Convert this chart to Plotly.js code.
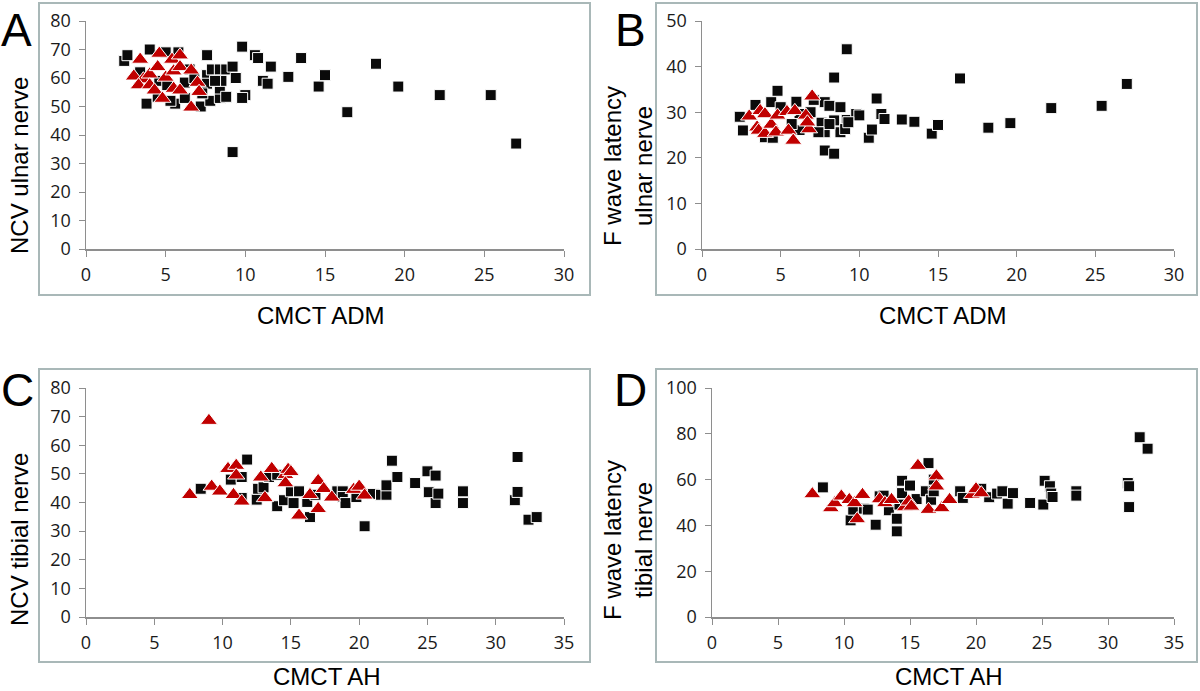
<!DOCTYPE html>
<html>
<head>
<meta charset="utf-8">
<script src="https://cdn.plot.ly/plotly-3.0.1.min.js"></script>
<style>html,body{margin:0;padding:0;background:#fff;}#chart{width:1200px;height:691px;}</style>
</head>
<body>
<div id="chart"></div>
<script>
// Panel A: CMCT ADM vs NCV ulnar nerve
const aSqX = [2.4,2.6,4.0,5.0,5.8,3.8,5.6,6.2,6.2,7.2,7.6,7.6,7.6,7.8,7.9,8.4,8.4,8.4,8.5,8.8,8.8,9.2,9.2,9.4,9.8,10.0,10.6,10.8,11.1,11.4,11.6,12.7,13.5,14.6,15.0,16.4,18.2,19.6,22.2,25.4,27.0,3.4,4.6,5.1,6.5,6.8,7.3,9.8,8.1,4.5,5.3];
const aSqY = [66,68,70,69,69,51,51,58.4,53,50,68,61,58,52,63,63,53,56.3,59,53.4,63,64,34,60,71,54,68,67,59,58,64,60.4,67,57,61,48,65,57,54,54,37,62,59,57.5,63,60,54.6,53,59,53.4,52];
const aTriX = [3.4,3.0,3.6,3.3,4.0,4.0,4.3,4.6,4.5,4.8,5.0,5.4,5.5,5.5,5.9,5.9,5.9,6.6,6.6,7.0,7.1];
const aTriY = [66.5,60.6,59.6,57.5,61.3,57.5,55.7,68.6,63.9,52.8,60.2,66.5,62.4,56.3,68,63.9,55.7,62.7,49.7,58.4,55.2];

// Panel B: CMCT ADM vs F wave latency ulnar nerve
const bSqX = [2.4,2.6,3.4,4.4,4.8,5.0,6.0,6.2,4.0,4.5,7.6,7.8,7.8,7.8,8.1,8.4,8.4,8.4,8.8,8.8,9.2,9.2,9.8,10.0,10.6,10.8,11.1,11.4,11.6,12.7,13.5,14.6,15.0,16.4,18.2,19.6,22.2,25.4,27.0,7.1,6.9,6.2,5.7,8.1,9.1,9.3,7.4];
const bSqY = [29.0,26.0,31.6,32.2,34.7,31.1,32.3,26.1,24.5,24.4,27.7,32.2,25.6,21.6,31.4,37.6,28.2,20.9,31.1,25.6,43.8,28.3,29.6,29.3,24.4,26.2,33.0,29.6,28.5,28.4,27.9,25.3,27.2,37.4,26.6,27.6,30.9,31.4,36.2,32.7,30.0,29.6,27.4,27.4,26.3,27.8,25.6];
const bTriX = [3.0,3.5,3.7,4.0,3.6,4.0,4.4,4.8,4.7,5.4,5.5,5.9,5.8,6.6,6.8,7.0,6.7];
const bTriY = [29.1,26.7,30.3,29.6,26.0,25.3,27.3,29.3,25.6,30.1,26.0,30.3,23.8,29.3,26.3,33.5,27.8];

// Panel C: CMCT AH vs NCV tibial nerve
const cSqX = [8.4,10.6,11.4,11.4,11.8,12.5,12.6,13.0,13.4,14.0,14.0,14.5,15.0,15.2,15.6,16.2,16.4,16.8,18.4,18.8,18.8,19.0,19.8,20.4,21.0,21.6,22.0,22.0,22.4,22.8,24.1,25.0,25.1,25.6,25.6,25.8,27.6,27.6,31.4,31.6,31.6,32.4,33.0];
const cSqY = [44.8,48.0,48.9,41.6,55.0,41.0,44.8,45.3,48.9,49.7,38.7,40.8,43.9,39.8,43.9,40.2,34.9,42.7,43.9,43.9,41.9,39.8,41.9,31.7,43.0,42.7,42.7,46.0,54.6,48.9,46.8,50.9,43.6,49.4,39.8,43.1,43.9,39.8,40.8,55.9,43.7,34.0,34.9];
const cTriX = [7.6,9.0,9.2,9.8,10.4,10.8,11.0,11.0,11.4,12.8,13.1,13.6,14.6,14.6,14.8,15.0,15.6,16.4,17.0,17.0,17.4,18.0,19.6,20.0,20.4];
const cTriY = [42.7,68.6,45.6,43.9,51.8,42.7,52.9,49.5,40.4,48.8,41.6,51.8,49.7,46.8,51.5,50.7,35.5,42.7,47.6,37.8,44.8,41.8,44.5,45.6,42.5];

// Panel D: CMCT AH vs F wave latency tibial nerve
const dSqX = [8.4,10.5,10.7,11.5,11.8,12.4,12.7,13.0,13.4,14.0,14.0,14.2,14.4,14.4,15.0,15.5,16.2,16.4,16.6,16.8,16.8,18.8,19.0,20.4,21.0,21.6,22.0,22.4,22.8,24.1,25.1,25.2,25.6,25.7,25.8,27.6,27.6,31.5,31.6,31.6,32.4,33.0];
const dSqY = [56.6,42.2,46.9,47.3,46.9,40.3,52.7,53.0,46.6,42.9,37.4,49.1,59.5,54.1,57.4,51.5,54.9,67.2,51.2,54.9,60.0,54.9,52.0,56.0,52.3,53.9,54.9,49.5,54.1,49.8,49.1,59.5,57.1,53.9,52.4,54.9,53.0,58.5,57.1,48.0,78.5,73.5];
const dTriX = [7.6,9.0,9.3,9.8,10.4,10.8,11.0,11.4,12.7,13.1,13.6,14.6,14.9,15.1,15.6,16.4,17.0,17.0,17.4,18.0,19.7,20.0,20.4];
const dTriY = [53.7,47.6,49.8,52.7,51.2,49.8,42.8,53.4,51.5,49.8,51.2,48.0,50.5,48.3,66.1,46.9,61.5,57.1,47.6,51.2,53.4,55.9,54.1];

const xTicksADM = [0,5,10,15,20,25,30];
const xTicksAH = [0,5,10,15,20,25,30,35];
const yTicks80 = [0,10,20,30,40,50,60,70,80];
const yTicks50 = [0,10,20,30,40,50];
const yTicks100 = [0,20,40,60,80,100];

const panelLetters = ['A','B','C','D'];
const xTitles = ['CMCT ADM','CMCT ADM','CMCT AH','CMCT AH'];
const yTitles = ['NCV ulnar nerve','F wave latency<br>ulnar nerve','NCV tibial nerve','F wave latency<br>tibial nerve'];

const W = 1200, H = 691;
const px = v => v / W;
const py = v => 1 - v / H;

const sqStyle = {symbol:'square', size:11, color:'#0a0a0a', line:{color:'#ffffff', width:1}};
const triStyle = {symbol:'triangle-up', size:15, color:'#c00000', line:{color:'#ffffff', width:1}};

function pair(xs, ys, xa, ya, style) {
  return {type:'scatter', mode:'markers', x:xs, y:ys, xaxis:xa, yaxis:ya, marker:style, hoverinfo:'skip', showlegend:false, cliponaxis:false};
}

const data = [
  pair(aSqX, aSqY, 'x', 'y', sqStyle), pair(aTriX, aTriY, 'x', 'y', triStyle),
  pair(bSqX, bSqY, 'x2', 'y2', sqStyle), pair(bTriX, bTriY, 'x2', 'y2', triStyle),
  pair(cSqX, cSqY, 'x3', 'y3', sqStyle), pair(cTriX, cTriY, 'x3', 'y3', triStyle),
  pair(dSqX, dSqY, 'x4', 'y4', sqStyle), pair(dTriX, dTriY, 'x4', 'y4', triStyle)
];

const tickFont = {family:'Open Sans, sans-serif', size:18, color:'#1a1a1a'};
const axLine = '#8e8e8e';
function xax(dom, rng, ticks, anchor) {
  return {domain:dom, range:rng, tickvals:ticks, ticktext:ticks.map(String), anchor:anchor,
    showline:true, linecolor:axLine, linewidth:1.5, ticks:'outside', ticklen:6, tickcolor:axLine, tickwidth:1,
    showgrid:false, zeroline:false, tickfont:tickFont, ticklabelstandoff:3, fixedrange:true};
}
function yax(dom, rng, ticks, anchor) {
  return {domain:dom, range:rng, tickvals:ticks, ticktext:ticks.map(String), anchor:anchor,
    showline:true, linecolor:axLine, linewidth:1.5, ticks:'outside', ticklen:6, tickcolor:axLine, tickwidth:1,
    showgrid:false, zeroline:false, tickfont:tickFont, ticklabelstandoff:4, fixedrange:true};
}

const boxColor = '#a9b8b8';
const boxes = [[39,590,3,295],[656,1197,3,295],[39,590,369,662],[656,1197,369,662]];
const shapes = boxes.map(b => ({type:'rect', xref:'paper', yref:'paper', x0:px(b[0]), x1:px(b[1]), y0:py(b[3]), y1:py(b[2]), line:{color:boxColor, width:2}, fillcolor:'rgba(0,0,0,0)', layer:'below'}));

const titleFont = {family:'Liberation Sans, Arial, sans-serif', size:24, color:'#000'};
const letterPos = [[16,30],[630,30],[17,390],[630,390]];
const xTitlePos = [[321,315],[943,315],[327,676],[949,676]];
const yTitlePos = [[19,166],[628,166],[19,540],[628,540]];

const annotations = [];
for (let i = 0; i < 4; i++) {
  annotations.push({text:panelLetters[i], xref:'paper', yref:'paper', x:px(letterPos[i][0]), y:py(letterPos[i][1]), xanchor:'center', yanchor:'middle', showarrow:false, font:{family:'Liberation Sans, Arial, sans-serif', size:46, color:'#000'}});
  annotations.push({text:xTitles[i], xref:'paper', yref:'paper', x:px(xTitlePos[i][0]), y:py(xTitlePos[i][1]), xanchor:'center', yanchor:'middle', showarrow:false, font:titleFont});
  annotations.push({text:yTitles[i], xref:'paper', yref:'paper', x:px(yTitlePos[i][0]), y:py(yTitlePos[i][1]), xanchor:'center', yanchor:'middle', showarrow:false, textangle:-90, font:titleFont});
}

const layout = {
  width:W, height:H, margin:{l:0,r:0,t:0,b:0}, paper_bgcolor:'#fff', plot_bgcolor:'rgba(0,0,0,0)', showlegend:false,
  xaxis: xax([px(86),px(564)],[0,30],xTicksADM,'y'),
  yaxis: yax([py(249),py(21)],[0,80],yTicks80,'x'),
  xaxis2: xax([px(702),px(1174)],[0,30],xTicksADM,'y2'),
  yaxis2: yax([py(249),py(21)],[0,50],yTicks50,'x2'),
  xaxis3: xax([px(86),px(564)],[0,35],xTicksAH,'y3'),
  yaxis3: yax([py(617),py(388)],[0,80],yTicks80,'x3'),
  xaxis4: xax([px(712),px(1174)],[0,35],xTicksAH,'y4'),
  yaxis4: yax([py(617),py(388)],[0,100],yTicks100,'x4'),
  shapes: shapes,
  annotations: annotations
};

Plotly.newPlot('chart', data, layout, {staticPlot:true, displayModeBar:false});
</script>
</body>
</html>
